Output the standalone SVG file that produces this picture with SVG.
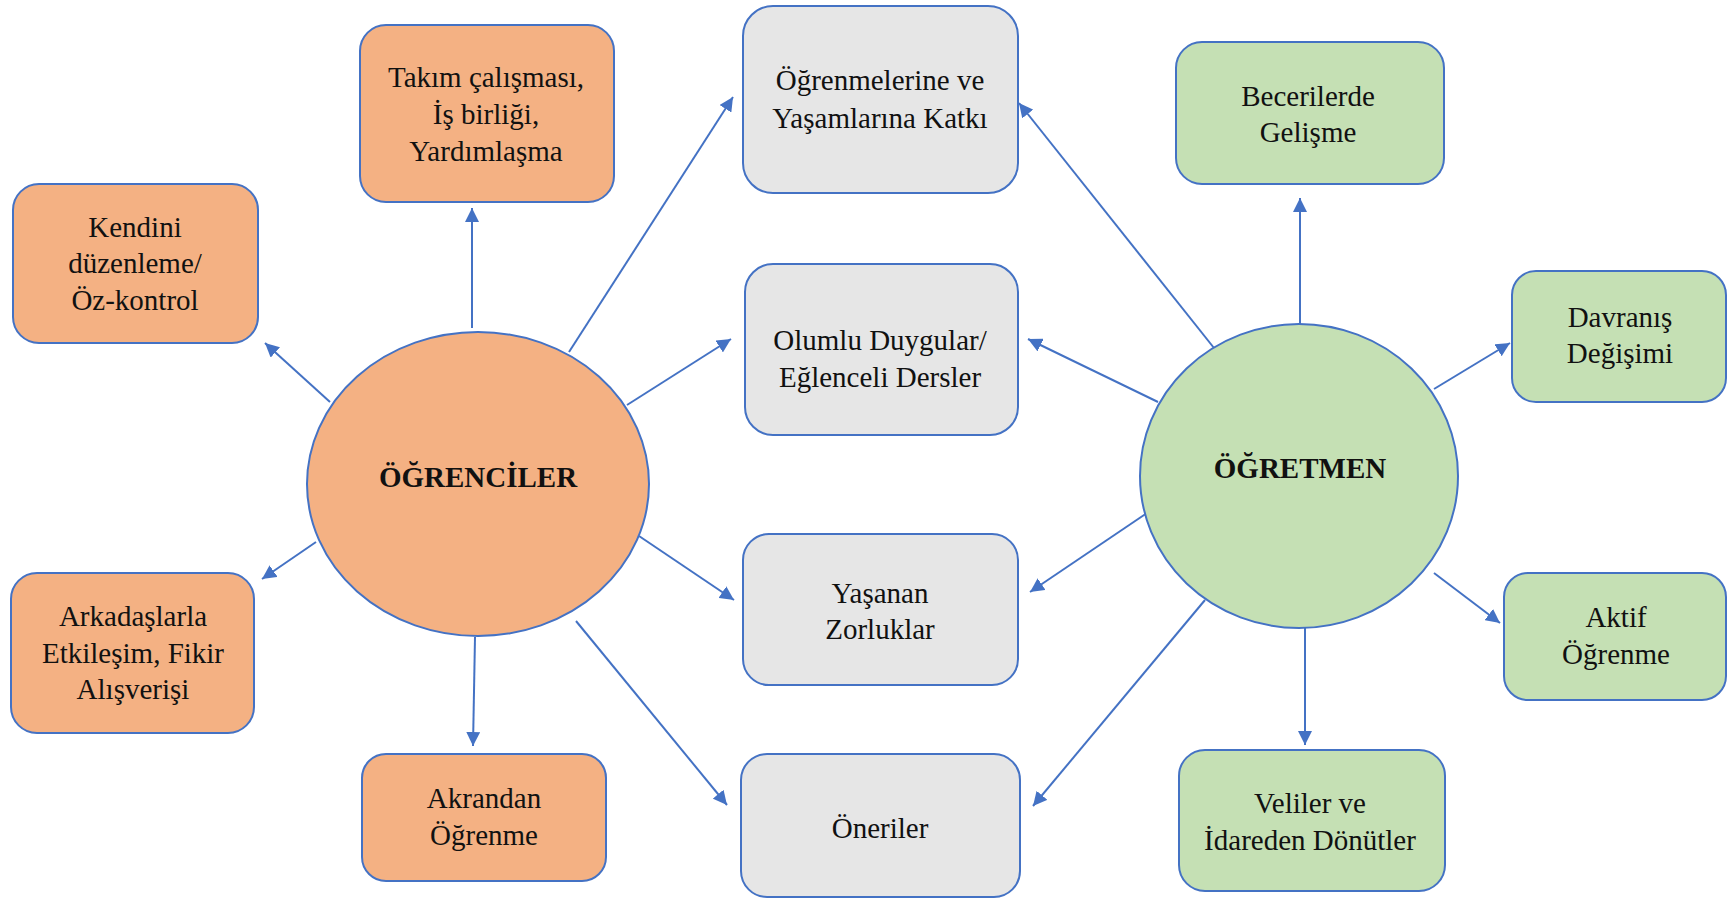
<svg xmlns="http://www.w3.org/2000/svg" width="1736" height="901" viewBox="0 0 1736 901">
<style>
.o{fill:#F4B183;stroke:#4472C4;stroke-width:2}
.g{fill:#C5E0B4;stroke:#4472C4;stroke-width:2}
.y{fill:#E6E6E6;stroke:#4472C4;stroke-width:2}
text{font-family:'Liberation Serif',Tinos,'Times New Roman',Times,'DejaVu Serif',serif;font-size:29px;fill:#111;text-anchor:middle}
.b{font-weight:bold}
.c line{stroke:#4472C4;stroke-width:2;marker-end:url(#ah)}
</style>
<defs>
<marker id="ah" markerUnits="userSpaceOnUse" markerWidth="16" markerHeight="14" refX="14" refY="7" orient="auto">
<path d="M0,0 L14,7 L0,14 Z" fill="#4472C4"/>
</marker>
</defs>
<rect width="1736" height="901" fill="#fff"/>
<g id="connectors" class="c">
<line x1="472" y1="328" x2="472" y2="208"/>
<line x1="330" y1="402" x2="265" y2="343"/>
<line x1="316" y1="542" x2="262" y2="579"/>
<line x1="475" y1="637" x2="473" y2="746"/>
<line x1="569" y1="352" x2="733" y2="97"/>
<line x1="627" y1="405" x2="731" y2="339"/>
<line x1="639" y1="536" x2="734" y2="600"/>
<line x1="576" y1="621" x2="727" y2="805"/>
<line x1="1214" y1="348" x2="1019" y2="103"/>
<line x1="1300" y1="325" x2="1300" y2="198"/>
<line x1="1434" y1="389" x2="1510" y2="343"/>
<line x1="1158" y1="402" x2="1028" y2="339"/>
<line x1="1147" y1="513" x2="1030" y2="592"/>
<line x1="1205" y1="600" x2="1033" y2="806"/>
<line x1="1305" y1="628" x2="1305" y2="745"/>
<line x1="1434" y1="573" x2="1500" y2="623"/>
</g>
<g id="ogrenciler">
<ellipse class="o" cx="478" cy="484" rx="171" ry="152"/>
<text class="b" x="478" y="487">ÖĞRENCİLER</text>
</g>
<g id="ogretmen">
<ellipse class="g" cx="1299" cy="476" rx="159" ry="152"/>
<text class="b" x="1300" y="478">ÖĞRETMEN</text>
</g>
<g id="takim">
<rect class="o" x="360" y="25" width="254" height="177" rx="26"/>
<text x="486" y="87">Takım çalışması,</text>
<text x="486" y="124">İş birliği,</text>
<text x="486" y="161">Yardımlaşma</text>
</g>
<g id="kendini">
<rect class="o" x="13" y="184" width="245" height="159" rx="26"/>
<text x="135" y="237">Kendini</text>
<text x="135" y="273">düzenleme/</text>
<text x="135" y="310">Öz-kontrol</text>
</g>
<g id="arkadaslarla">
<rect class="o" x="11" y="573" width="243" height="160" rx="26"/>
<text x="133" y="626">Arkadaşlarla</text>
<text x="133" y="663">Etkileşim, Fikir</text>
<text x="133" y="699">Alışverişi</text>
</g>
<g id="akrandan">
<rect class="o" x="362" y="754" width="244" height="127" rx="24"/>
<text x="484" y="808">Akrandan</text>
<text x="484" y="845">Öğrenme</text>
</g>
<g id="ogrenmelerine">
<rect class="y" x="743" y="6" width="275" height="187" rx="30"/>
<text x="880" y="90">Öğrenmelerine ve</text>
<text x="880" y="128">Yaşamlarına Katkı</text>
</g>
<g id="olumlu">
<rect class="y" x="745" y="264" width="273" height="171" rx="28"/>
<text x="880" y="350">Olumlu Duygular/</text>
<text x="880" y="387">Eğlenceli Dersler</text>
</g>
<g id="yasanan">
<rect class="y" x="743" y="534" width="275" height="151" rx="26"/>
<text x="880" y="603">Yaşanan</text>
<text x="880" y="639">Zorluklar</text>
</g>
<g id="oneriler">
<rect class="y" x="741" y="754" width="279" height="143" rx="26"/>
<text x="880" y="838">Öneriler</text>
</g>
<g id="becerilerde">
<rect class="g" x="1176" y="42" width="268" height="142" rx="26"/>
<text x="1308" y="106">Becerilerde</text>
<text x="1308" y="142">Gelişme</text>
</g>
<g id="davranis">
<rect class="g" x="1512" y="271" width="214" height="131" rx="24"/>
<text x="1620" y="327">Davranış</text>
<text x="1620" y="363">Değişimi</text>
</g>
<g id="aktif">
<rect class="g" x="1504" y="573" width="222" height="127" rx="24"/>
<text x="1616" y="627">Aktif</text>
<text x="1616" y="664">Öğrenme</text>
</g>
<g id="veliler">
<rect class="g" x="1179" y="750" width="266" height="141" rx="26"/>
<text x="1310" y="813">Veliler ve</text>
<text x="1310" y="850">İdareden Dönütler</text>
</g>
</svg>
